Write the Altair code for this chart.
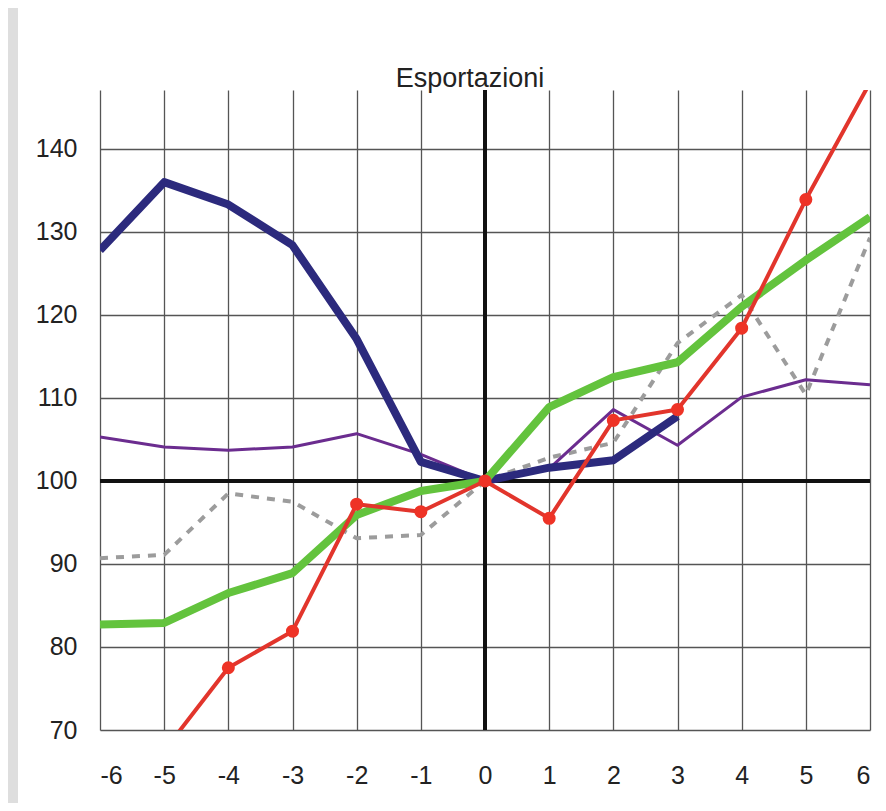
import altair as alt
import pandas as pd

# ---- data ----
periods = [-6, -5, -4, -3, -2, -1, 0, 1, 2, 3, 4, 5, 6]
navy_vals = [127.8, 136.0, 133.3, 128.4, 117.1, 102.3, 100.0, 101.6, 102.5, 107.8, None, None, None]
red_vals = [None, 67.5, 77.5, 81.9, 97.2, 96.3, 100.0, 95.5, 107.3, 108.6, 118.4, 133.9, 148.0]
green_vals = [82.7, 82.9, 86.5, 88.9, 95.9, 98.8, 100.0, 108.9, 112.5, 114.3, 121.0, 126.6, 131.8]
purple_vals = [105.3, 104.1, 103.7, 104.1, 105.7, 103.2, 100.0, 101.5, 108.6, 104.3, 110.1, 112.2, 111.6]
gray_vals = [90.7, 91.1, 98.5, 97.5, 93.1, 93.5, 100.0, 102.8, 104.6, 116.6, 122.4, 110.4, 129.3]

series = {
    "navy": navy_vals,
    "red": red_vals,
    "green": green_vals,
    "purple": purple_vals,
    "gray": gray_vals,
}

x_ticks = periods
y_ticks = [70, 80, 90, 100, 110, 120, 130, 140]
title_text = "Esportazioni"

rows = []
for name, vals in series.items():
    for x, v in zip(periods, vals):
        if v is not None:
            rows.append({"series": name, "x": x, "y": v})
df = pd.DataFrame(rows)

FONT = "Liberation Sans"
xscale = alt.Scale(domain=[-6, 6], nice=False, zero=False)
yscale = alt.Scale(domain=[70, 147.1], nice=False, zero=False)
x_axis = alt.Axis(values=x_ticks, grid=True, ticks=False, tickSize=0, domain=False,
                  labelPadding=33, labelExpr="datum.value + ''")
y_axis = alt.Axis(values=y_ticks, grid=True, ticks=False, tickSize=0, domain=False,
                  labelPadding=23, labelExpr="datum.value + ''")

def X():
    return alt.X("x:Q", scale=xscale, title=None, axis=x_axis)

def Y():
    return alt.Y("y:Q", scale=yscale, title=None, axis=y_axis)

base = alt.Chart(df)

def line(name, color, width, dash=None):
    kw = dict(color=color, strokeWidth=width, clip=True, strokeJoin="round", strokeCap="butt")
    if dash:
        kw["strokeDash"] = dash
    return base.transform_filter(alt.datum.series == name).mark_line(**kw).encode(x=X(), y=Y())

ref_df = pd.DataFrame({"x": [0], "y": [100]})
vrule = alt.Chart(ref_df).mark_rule(color="#111111", strokeWidth=4).encode(x=X())
hrule = alt.Chart(ref_df).mark_rule(color="#111111", strokeWidth=4).encode(y=Y())

red_points = base.transform_filter(alt.datum.series == "red").mark_point(
    filled=True, color="#ee3326", size=170, opacity=1, clip=True, shape="circle"
).encode(x=X(), y=Y())

strip_df = pd.DataFrame({"k": [1]})
strip = alt.Chart(strip_df).mark_rect(color="#dedede").encode(
    x=alt.value(-92), x2=alt.value(-82), y=alt.value(-82), y2=alt.value(721))

title_df = pd.DataFrame({"t": [title_text]})
title = alt.Chart(title_df).mark_text(
    font=FONT, fontSize=27, color="#222222", align="center", baseline="alphabetic"
).encode(text="t:N", x=alt.value(370), y=alt.value(-3))

chart = alt.layer(
    strip,
    vrule,
    hrule,
    line("gray", "#9c9c9c", 4, [8, 8]),
    line("purple", "#6b2c8f", 3),
    line("navy", "#2c2a7d", 8),
    line("green", "#63c33d", 8),
    line("red", "#e2352c", 4),
    red_points,
    title,
).properties(
    width=770,
    height=640,
    autosize=alt.AutoSizeParams(type="none"),
    padding={"left": 92, "top": 82, "right": 8, "bottom": 73},
    background="white",
).configure_view(stroke=None).configure_axis(
    labelFont=FONT, labelFontSize=25, labelColor="#222222",
    gridColor="#555555", gridWidth=1.3, gridOpacity=1,
)

chart.save("out.html", embed_options={"renderer": "svg", "actions": False})
